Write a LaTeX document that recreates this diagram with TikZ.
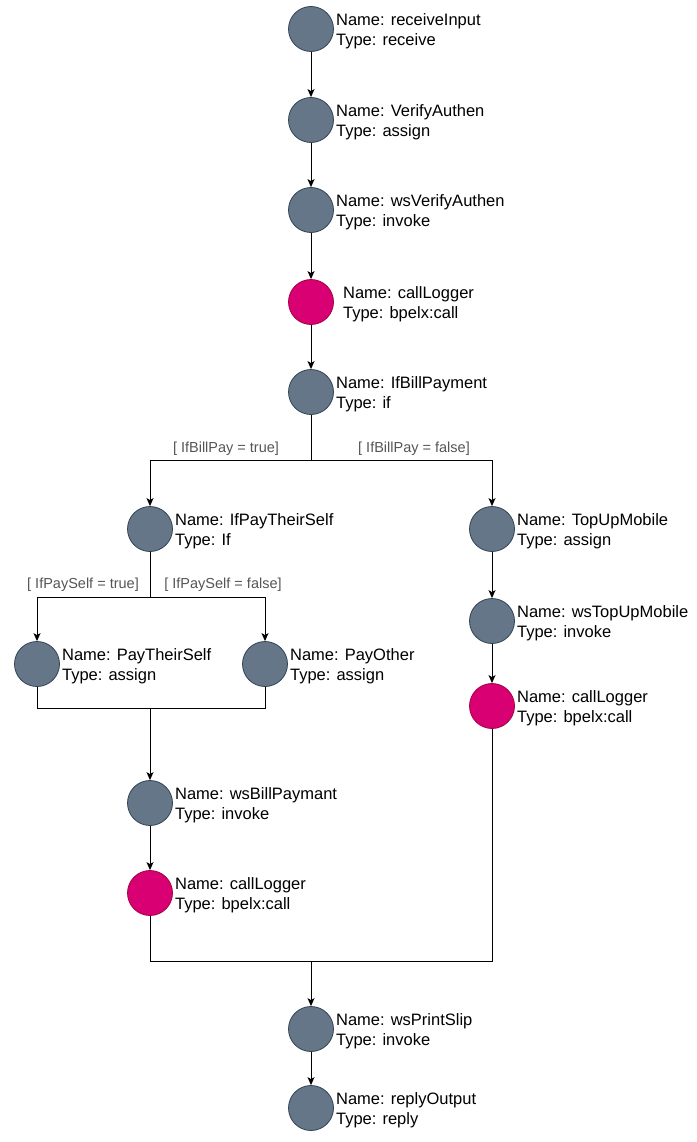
\documentclass[tikz,border=0pt]{standalone}
\usepackage{fontspec}
\setmainfont{Liberation Sans}
\usetikzlibrary{arrows.meta}
\definecolor{actfill}{HTML}{647687}
\definecolor{actline}{HTML}{314354}
\definecolor{callfill}{HTML}{D80073}
\definecolor{callline}{HTML}{A50040}
\definecolor{guardtext}{HTML}{555555}
\begin{document}
\begin{tikzpicture}[x=1pt,y=-1pt,
  act/.style={circle,fill=actfill,draw=actline,line width=0.8pt,minimum size=45pt,inner sep=0pt},
  call/.style={circle,fill=callfill,draw=callline,line width=0.8pt,minimum size=45pt,inner sep=0pt},
  info/.style={anchor=west,align=left,inner sep=0pt,font=\fontsize{16.5}{20}\selectfont,text=black},
  guard/.style={inner sep=0pt,font=\fontsize{14.5}{17}\selectfont,text=guardtext},
  flow/.style={draw=black,line width=1pt,-{Stealth[length=8pt,width=7pt,inset=2pt]}},
  wire/.style={draw=black,line width=1pt},
  textat/.style={xshift=2pt,yshift=-2.5pt}]
\useasboundingbox (0,0) rectangle (696,1142);

% activities
\node[act]  (recv)   at (311,29)   {};
\node[act]  (verify) at (311,120)  {};
\node[act]  (wsver)  at (311,210)  {};
\node[call] (logA)   at (311,302)  {};
\node[act]  (ifbill) at (311,392)  {};
\node[act]  (ifself) at (150,529)  {};
\node[act]  (topup)  at (492,529)  {};
\node[act]  (wstop)  at (492,621)  {};
\node[call] (logC)   at (492,706)  {};
\node[act]  (payself) at (37,664)  {};
\node[act]  (payoth) at (265,664)  {};
\node[act]  (wsbill) at (150,803)  {};
\node[call] (logB)   at (150,893)  {};
\node[act]  (wsprint) at (311,1029) {};
\node[act]  (reply)  at (311,1108) {};

% descriptions
\node[info] (recvT)   at ([textat]recv.east)   {Name: receiveInput\\Type: receive};
\node[info] (verifyT) at ([textat]verify.east) {Name: VerifyAuthen\\Type: assign};
\node[info] (wsverT)  at ([textat]wsver.east)  {Name: wsVerifyAuthen\\Type: invoke};
\node[info] (logAT)   at ([textat,xshift=7pt]logA.east) {Name: callLogger\\Type: bpelx:call};
\node[info] (ifbillT) at ([textat]ifbill.east) {Name: IfBillPayment\\Type: if};
\node[info] (ifselfT) at ([textat]ifself.east) {Name: IfPayTheirSelf\\Type: If};
\node[info] (topupT)  at ([textat]topup.east)  {Name: TopUpMobile\\Type: assign};
\node[info] (wstopT)  at ([textat]wstop.east)  {Name: wsTopUpMobile\\Type: invoke};
\node[info] (logCT)   at ([textat]logC.east)   {Name: callLogger\\Type: bpelx:call};
\node[info] (payselfT) at ([textat]payself.east) {Name: PayTheirSelf\\Type: assign};
\node[info] (payothT) at ([textat]payoth.east) {Name: PayOther\\Type: assign};
\node[info] (wsbillT) at ([textat]wsbill.east) {Name: wsBillPaymant\\Type: invoke};
\node[info] (logBT)   at ([textat]logB.east)   {Name: callLogger\\Type: bpelx:call};
\node[info] (wsprintT) at ([textat]wsprint.east) {Name: wsPrintSlip\\Type: invoke};
\node[info] (replyT)  at ([textat]reply.east)  {Name: replyOutput\\Type: reply};

% branch and merge points
\coordinate (splitA) at (311,460);
\coordinate (splitB) at (150,597);
\coordinate (mergeB) at (150,708);
\coordinate (mergeA) at (311,961);

% guards
\node[guard] (gBillT) at (226,449) {[ IfBillPay = true]};
\node[guard] (gBillF) at (414,449) {[ IfBillPay = false]};
\node[guard] (gSelfT) at (83,585)  {[ IfPaySelf = true]};
\node[guard] (gSelfF) at (223,585) {[ IfPaySelf = false]};

% main sequence
\draw[flow] (recv) -- (verify);
\draw[flow] (verify) -- (wsver);
\draw[flow] (wsver) -- (logA);
\draw[flow] (logA) -- (ifbill);

% bill payment decision
\draw[wire] (ifbill) -- (splitA);
\draw[flow] (splitA) -| (ifself);
\draw[flow] (splitA) -| (topup);

% pay-self decision
\draw[wire] (ifself) -- (splitB);
\draw[flow] (splitB) -| (payself);
\draw[flow] (splitB) -| (payoth);
\draw[wire] (payself) |- (mergeB);
\draw[wire] (payoth) |- (mergeB);
\draw[flow] (mergeB) -- (wsbill);
\draw[flow] (wsbill) -- (logB);

% top-up branch
\draw[flow] (topup) -- (wstop);
\draw[flow] (wstop) -- (logC);

% join and finish
\draw[wire] (logB) |- (mergeA);
\draw[wire] (logC) |- (mergeA);
\draw[flow] (mergeA) -- (wsprint);
\draw[flow] (wsprint) -- (reply);
\end{tikzpicture}
\end{document}
